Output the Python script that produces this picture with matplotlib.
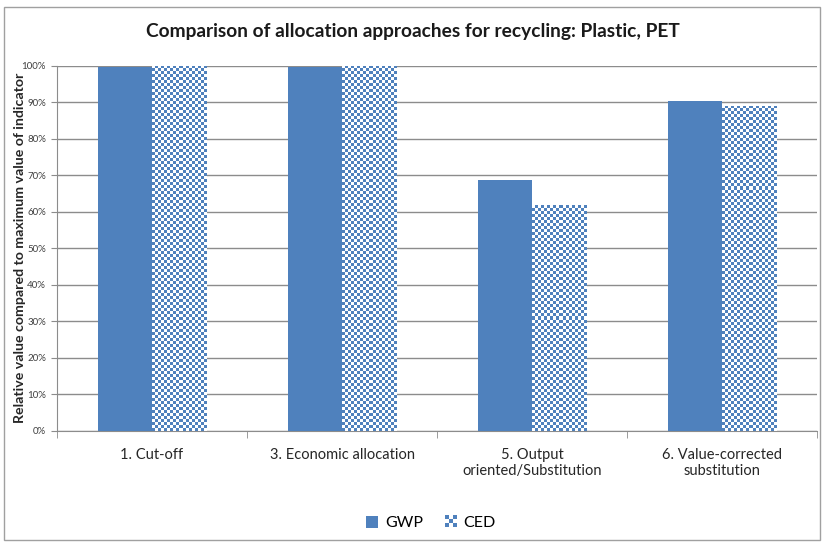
import matplotlib
matplotlib.use("Agg")
import matplotlib.pyplot as plt
import numpy as np
from matplotlib.patches import Rectangle, Patch
from matplotlib.legend_handler import HandlerBase

# Data
categories = ["1. Cut-off", "3. Economic allocation",
              "5. Output\noriented/Substitution", "6. Value-corrected\nsubstitution"]
gwp = [99.6, 99.6, 68.7, 90.2]
ced = [100.0, 100.0, 61.8, 89.0]

blue = "#4f81bd"
grid_col = "#8c8c8c"
plt.rcParams['font.family'] = ['Lato', 'DejaVu Sans']

fig = plt.figure(figsize=(8.26, 5.45), dpi=100)
ax = fig.add_axes([57 / 826, 114 / 545, 760 / 826, 365.5 / 545])

# outer chart frame
fig.patches.append(Rectangle((4 / 826, 5 / 545), 816 / 826, 533 / 545,
                             transform=fig.transFigure, fill=False,
                             edgecolor="#a0a0a0", lw=1.0))

x = np.arange(len(categories))
w = 1 / 3.5  # excel gap width 150%

ax.bar(x - w / 2, gwp, w, color=blue, zorder=3)
ced_bars = ax.bar(x + w / 2, ced, w, color="white", zorder=2)

# checkerboard fill for CED
px_per_unit = 365.5 / 100
for b in ced_bars:
    h = b.get_height()
    rows = max(1, int(round(h * px_per_unit / 3)))
    cols = 18
    rr, cc = np.indices((rows, cols))
    checker = ((rr + cc) % 2).astype(float)
    im = ax.imshow(checker, cmap=matplotlib.colors.ListedColormap(["white", blue]),
                   extent=(b.get_x(), b.get_x() + b.get_width(), 0, h),
                   aspect="auto", interpolation="nearest", zorder=3)
    im.set_clip_path(b)

ax.set_xlim(-0.5, len(categories) - 0.5)
ax.set_ylim(0, 100)
ax.set_yticks(np.arange(0, 101, 10))
ax.set_yticklabels([f"{v}%" for v in range(0, 101, 10)], fontsize=7, color="#404040")
ax.yaxis.grid(True, color=grid_col, lw=1.0, zorder=0)
ax.set_axisbelow(True)

ax.set_xticks(x)
ax.set_xticklabels(categories, fontsize=10.5, color="#262626", linespacing=1.2)
ax.set_xticks(np.arange(-0.5, len(categories)), minor=True)
ax.tick_params(axis="x", which="major", length=0, pad=12)
ax.tick_params(axis="x", which="minor", length=5, color=grid_col, direction="out")
ax.tick_params(axis="y", length=4, color=grid_col, pad=4)

for s in ["top", "right"]:
    ax.spines[s].set_visible(False)
for s in ["left", "bottom"]:
    ax.spines[s].set_color(grid_col)

ax.set_ylabel("Relative value compared to maximum value of indicator",
              fontsize=10.2, fontweight="bold", color="#262626")
ax.yaxis.set_label_coords(-0.041, 0.5)

fig.text(0.5, 0.942, "Comparison of allocation approaches for recycling: Plastic, PET",
         ha="center", va="center", fontsize=13.8, fontweight="bold", color="#1a1a1a")


class CheckerHandler(HandlerBase):
    def create_artists(self, legend, orig_handle, xd, yd, width, height, fontsize, trans):
        artists = []
        n = 3
        s = min(width, height)
        x0 = xd + (width - s) / 2
        y0 = yd
        d = s / n
        artists.append(Rectangle((x0, y0), s, s, facecolor="white", edgecolor="none", transform=trans))
        for i in range(n):
            for j in range(n):
                if (i + j) % 2 == 0:
                    artists.append(Rectangle((x0 + i * d, y0 + j * d), d, d,
                                             facecolor=blue, edgecolor="none", transform=trans))
        return artists


gwp_h = Patch(facecolor=blue)
ced_h = Patch(facecolor="white")
fig.legend([gwp_h, ced_h], ["GWP", "CED"], loc="center", bbox_to_anchor=(0.522, 0.04),
           ncol=2, frameon=False, fontsize=11.5, handlelength=0.75, handleheight=0.75,
           handletextpad=0.4, columnspacing=1.4,
           handler_map={ced_h: CheckerHandler()})

fig.savefig("out.png", dpi=100)
